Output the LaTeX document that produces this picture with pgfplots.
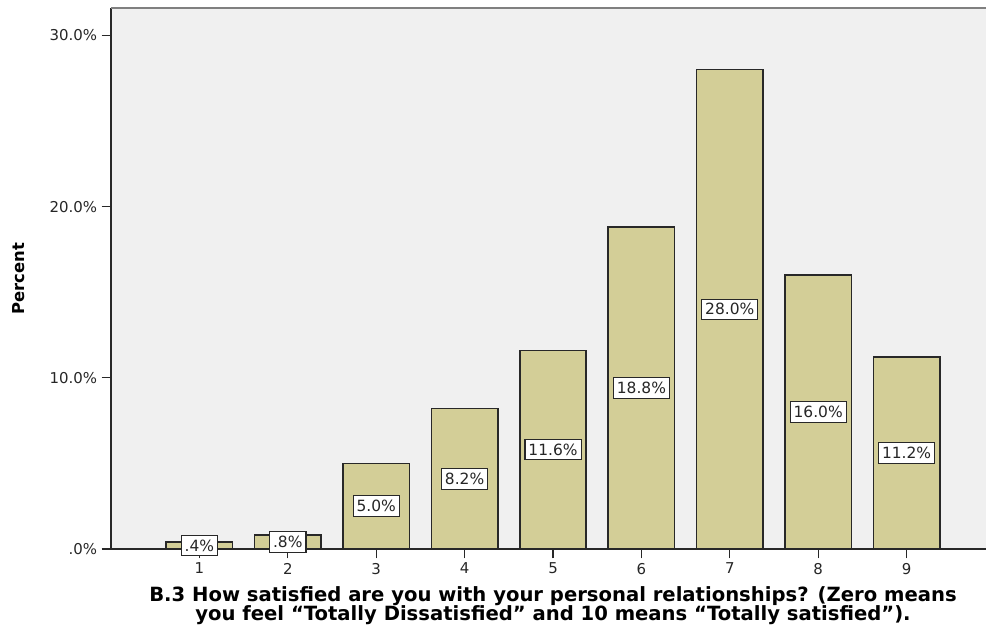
\documentclass[border=0pt]{standalone}
\usepackage{pgfplots}
\usepackage{pgfplotstable}
\pgfplotsset{compat=1.18}
\usepackage{fontspec}
\setmainfont{DejaVu Sans}
\definecolor{barfill}{RGB}{211,206,151}
\definecolor{plotbg}{RGB}{240,240,240}
\definecolor{edge}{RGB}{40,40,40}

\pgfplotstableread{
x y
1 0.4
2 0.8
3 5.0
4 8.2
5 11.6
6 18.8
7 28.0
8 16.0
9 11.2
}\satisfaction

\begin{document}
\begin{tikzpicture}
\useasboundingbox (0,0) rectangle (739.5pt,472.5pt);
\begin{axis}[
  at={(83.25pt,60.75pt)}, anchor=south west,
  scale only axis,
  width=663pt, height=405.75pt,
  xmin=0, xmax=10, ymin=0, ymax=31.6,
  axis background/.style={fill=plotbg},
  axis line style={draw=none},
  xtick={1,...,9},
  ytick={0,10,20,30},
  yticklabels={.0\%,10.0\%,20.0\%,30.0\%},
  xtick pos=bottom, ytick pos=left,
  tick align=outside,
  major tick length=7pt,
  tick style={edge, line width=0.8pt},
  tick label style={font=\fontsize{11.2}{13}\selectfont, text=black!85},
  /pgf/number format/assume math mode=true,
  xlabel={B.3 How satisfied are you with your personal relationships? (Zero means\\[-1.8pt]you feel “Totally Dissatisfied” and 10 means “Totally satisfied”).},
  ylabel={Percent},
  every axis x label/.style={at={(axis description cs:0.5,0)}, anchor=center, yshift=-42.5pt,
    align=center, font=\bfseries\fontsize{14.7}{12.8}\selectfont},
  every axis y label/.style={at={(axis description cs:0,0.5)}, anchor=center,
    xshift=-69pt, rotate=90, font=\bfseries\fontsize{12.3}{13}\selectfont},
  clip=false,
]
\addplot[ybar, bar width=0.75, fill=barfill, draw=edge, line width=1.2pt]
  table[x=x, y=y] {\satisfaction};
\addplot[draw=none, mark=none,
  nodes near coords={\pgfmathprintnumber[fixed, fixed zerofill, precision=1, skip 0.=true]{\pgfplotspointmeta}\%},
  point meta=explicit,
  every node near coord/.style={anchor=center, fill=white, draw=edge, line width=0.8pt,
    inner xsep=2.6pt, inner ysep=3.3pt, font=\fontsize{11.6}{13}\selectfont, text=black!85},
] table[x=x, y expr=\thisrow{y}/2, meta=y] {\satisfaction};
\draw[edge, line width=1pt] (axis cs:0,0) -- (axis cs:10,0);
\draw[edge, line width=1pt] (axis cs:0,0) -- (axis cs:0,31.6);
\draw[gray, line width=1.2pt] (axis cs:0,31.6) -- (axis cs:10,31.6);
\end{axis}
\end{tikzpicture}
\end{document}
